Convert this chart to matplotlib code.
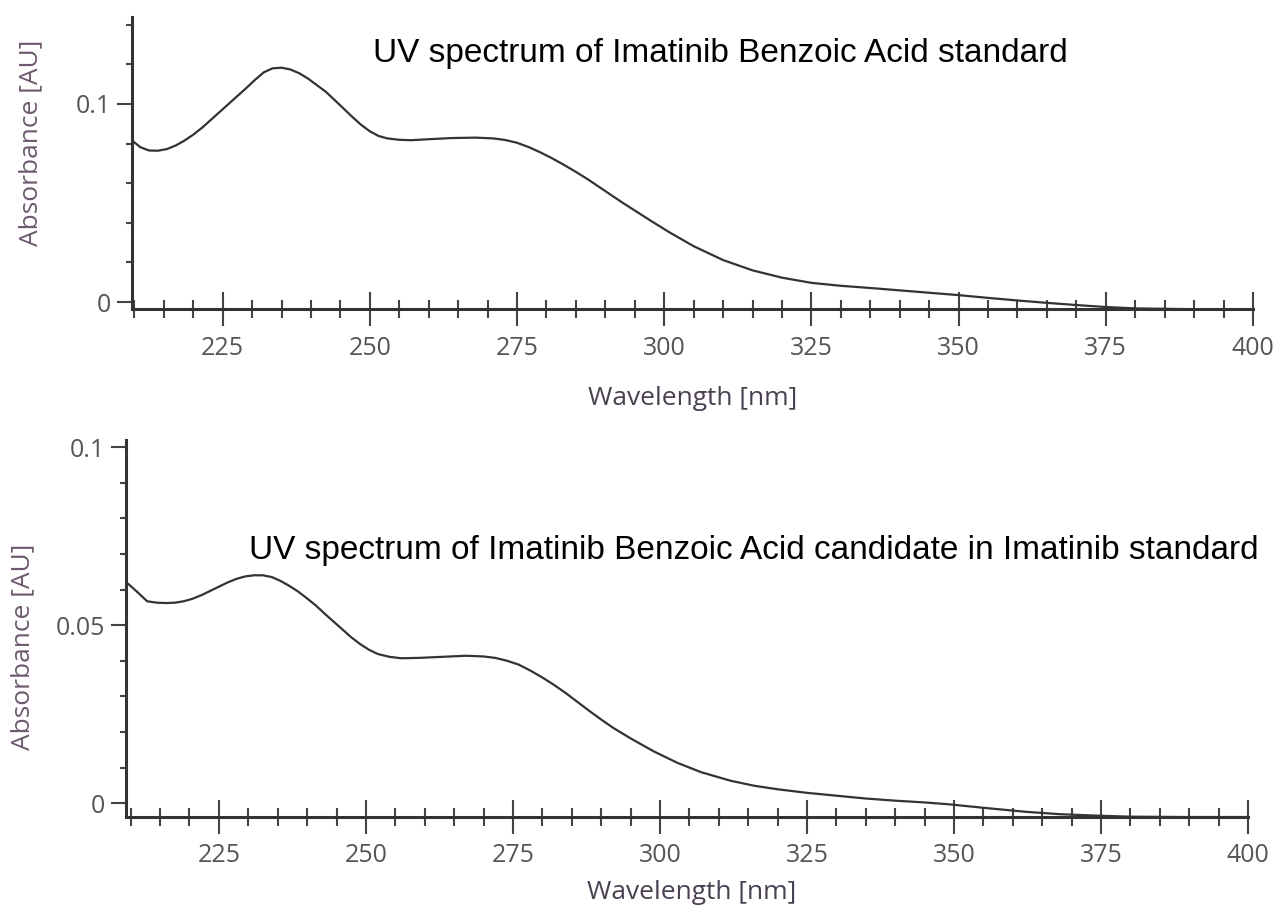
import matplotlib
matplotlib.use("Agg")
import matplotlib.pyplot as plt
import numpy as np

# Top spectrum: Imatinib Benzoic Acid standard
wl_std = [209.5, 211, 212.5, 214, 215.5, 217, 218.5, 220, 221.5, 223, 224.5, 226,
          227.5, 229, 230.5, 232, 233.5, 235, 236.5, 238, 239.5, 241, 242.5, 244,
          245.5, 247, 248.5, 250, 251.5, 253, 255, 257, 260, 264, 268, 271, 273,
          275, 277, 279, 281, 283, 285, 287, 289, 291, 293, 295, 298, 301, 305,
          310, 315, 320, 325, 330, 335, 340, 345, 350, 355, 360, 365, 370, 375,
          380, 390, 400]
abs_std = [0.0818, 0.0782, 0.0765, 0.0764, 0.0772, 0.0790, 0.0815, 0.0845, 0.0880,
           0.0920, 0.0960, 0.1000, 0.1040, 0.1080, 0.1122, 0.1160, 0.1180, 0.1183,
           0.1174, 0.1155, 0.1128, 0.1095, 0.1062, 0.1020, 0.0978, 0.0935, 0.0895,
           0.0862, 0.0838, 0.0826, 0.0819, 0.0817, 0.0822, 0.0828, 0.0830, 0.0826,
           0.0818, 0.0804, 0.0782, 0.0755, 0.0725, 0.0692, 0.0657, 0.0620, 0.0580,
           0.0540, 0.0500, 0.0462, 0.0405, 0.0350, 0.0282, 0.0212, 0.0160, 0.0123,
           0.0097, 0.0082, 0.0071, 0.0059, 0.0047, 0.0035, 0.0021, 0.0008, -0.0004,
           -0.0015, -0.0025, -0.0032, -0.0036, -0.0037]

# Bottom spectrum: candidate peak in Imatinib standard
wl_cand = [209.5, 211, 212.8, 214.5, 216, 217.5, 219, 220.5, 222, 223.5, 225, 226.5,
           228, 229.5, 231, 232.5, 234, 235.5, 237, 238.5, 240, 241.5, 243, 244.5,
           246, 247.5, 249, 250.5, 252, 254, 256, 259, 263, 267, 270, 272, 274, 276,
           278, 280, 282, 284, 286, 288, 290, 292, 295, 299, 303, 307, 312, 316,
           320, 325, 330, 335, 340, 345, 349, 355, 362, 368, 374, 380, 390, 400]
abs_cand = [0.0617, 0.0595, 0.0567, 0.0563, 0.0562, 0.0563, 0.0567, 0.0574, 0.0584,
            0.0596, 0.0608, 0.0620, 0.0630, 0.0637, 0.0640, 0.0640, 0.0635, 0.0624,
            0.0610, 0.0594, 0.0575, 0.0555, 0.0532, 0.0510, 0.0488, 0.0466, 0.0447,
            0.0431, 0.0419, 0.0411, 0.0407, 0.0408, 0.0411, 0.0414, 0.0412, 0.0408,
            0.0400, 0.0389, 0.0372, 0.0353, 0.0332, 0.0309, 0.0284, 0.0259, 0.0235,
            0.0212, 0.0182, 0.0145, 0.0113, 0.0087, 0.0063, 0.0049, 0.0039, 0.0029,
            0.0021, 0.0013, 0.0007, 0.0002, -0.0003, -0.0013, -0.0024, -0.0031,
            -0.0035, -0.0038, -0.0039, -0.0039]

x_major = [225, 250, 275, 300, 325, 350, 375, 400]
titles = ["UV spectrum of Imatinib Benzoic Acid standard",
          "UV spectrum of Imatinib Benzoic Acid candidate in Imatinib standard"]

tick_font = "Open Sans"
axis_col = "#333333"
tick_col = "#555555"
label_col = "#6e5a6e"

fig = plt.figure(figsize=(12.83, 9.23), dpi=100)


def style_axes(ax, xlim, ylim, y_major, y_minor):
    ax.set_xlim(*xlim)
    ax.set_ylim(*ylim)
    for s in ["top", "right"]:
        ax.spines[s].set_visible(False)
    for s in ["left", "bottom"]:
        ax.spines[s].set_color(axis_col)
        ax.spines[s].set_linewidth(2.2)
    ax.set_xticks(x_major)
    ax.set_xticks(np.arange(210, 401, 5), minor=True)
    ax.set_yticks(y_major)
    ax.set_yticks(y_minor, minor=True)
    ax.set_yticklabels([("%g" % v) for v in y_major])
    ax.tick_params(axis="x", which="major", direction="inout", length=24, width=1.5,
                   color="#444444", pad=7, labelsize=18, labelcolor=tick_col)
    ax.tick_params(axis="x", which="minor", direction="inout", length=13, width=1.5,
                   color="#444444")
    ax.tick_params(axis="y", which="major", direction="out", length=11, width=1.5,
                   color="#444444", pad=4, labelsize=18, labelcolor=tick_col)
    ax.tick_params(axis="y", which="minor", direction="out", length=4.5, width=1.5,
                   color="#444444")
    for lab in ax.get_xticklabels() + ax.get_yticklabels():
        lab.set_family(tick_font)


# top panel
ax1 = fig.add_axes([0.1029, 0.6648, 0.8737, 0.3168])
ax1.plot(wl_std, abs_std, color="#333333", lw=1.6)
style_axes(ax1, (209.6, 400), (-0.0037, 0.1439), [0, 0.1],
           [0.02, 0.04, 0.06, 0.08, 0.12, 0.14])
ax1.set_xlabel("Wavelength [nm]", family=tick_font, fontsize=19, color="#4a4050")
ax1.xaxis.set_label_coords(0.50, -0.262)
ax1.set_ylabel("Absorbance [AU]", family=tick_font, fontsize=19, color=label_col)
ax1.yaxis.set_label_coords(-0.079, 0.568)
ax1.text(0.525, 0.875, titles[0], transform=ax1.transAxes, ha="center", va="center",
         family="Liberation Sans", fontsize=24, color="black")

# bottom panel
ax2 = fig.add_axes([0.0982, 0.1148, 0.8745, 0.4085])
ax2.plot(wl_cand, abs_cand, color="#333333", lw=1.6)
style_axes(ax2, (209.2, 400), (-0.0039, 0.102), [0, 0.05, 0.1],
           [0.01, 0.02, 0.03, 0.04, 0.06, 0.07, 0.08, 0.09])
ax2.set_xlabel("Wavelength [nm]", family=tick_font, fontsize=19, color="#4a4050")
ax2.xaxis.set_label_coords(0.504, -0.168)
ax2.set_ylabel("Absorbance [AU]", family=tick_font, fontsize=19, color=label_col)
ax2.yaxis.set_label_coords(-0.081, 0.451)
ax2.text(0.56, 0.708, titles[1], transform=ax2.transAxes, ha="center", va="center",
         family="Liberation Sans", fontsize=24, color="black")

fig.savefig("out.png", dpi=100)
